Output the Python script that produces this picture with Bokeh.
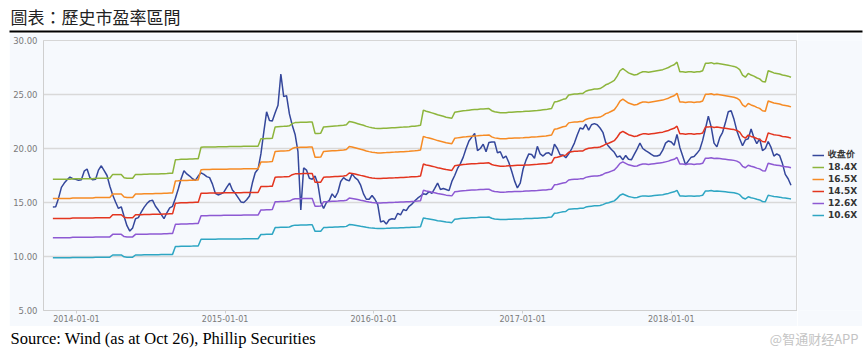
from datetime import datetime
import pandas as pd
from bokeh.plotting import figure
from bokeh.layouts import column, row
from bokeh.models import (Range1d, FixedTicker, DatetimeTickFormatter, NumeralTickFormatter,
                          Label, Legend, LegendItem, BoxAnnotation, ColumnDataSource, Spacer)
from bokeh.embed import file_html
from bokeh.resources import INLINE

# ---------------- data (weekly readings from the picture) ----------------
start_date = "2013-11-04"
n_weeks = 260

close = [
    14.58, 14.6, 15.4, 16.4, 16.8, 17.1, 17.35, 17.2, 17.15, 17.05,
    17.1, 17.9, 18.1, 17.3, 17.1, 17.15, 18.0, 18.4, 17.95, 17.5,
    16.5, 15.7, 15.05, 14.45, 14.6, 13.7, 12.85, 12.35, 12.65, 13.5,
    13.6, 14.1, 14.55, 14.9, 15.15, 15.2, 14.65, 14.3, 13.9, 13.5,
    14.05, 14.5, 14.65, 15.4, 16.25, 17.2, 17.95, 17.65, 17.45, 17.2,
    17.05, 17.45, 17.75, 17.6, 17.4, 17.3, 16.7, 15.85, 15.7, 15.8,
    15.95, 16.4, 16.8, 16.15, 15.85, 15.45, 15.05, 15.0, 15.25, 15.6,
    16.8, 17.75, 18.1, 19.5, 21.5, 23.4, 22.6, 22.55, 23.3, 24.0,
    26.9, 24.8, 24.9, 23.2, 22.15, 21.3, 19.7, 14.3, 18.2, 18.0,
    17.25, 17.15, 17.45, 16.7, 15.0, 14.45, 15.0, 15.2, 15.8, 15.45,
    15.95, 16.95, 17.3, 17.1, 17.0, 17.65, 17.3, 17.1, 16.6, 15.8,
    15.3, 15.3, 15.65, 15.3, 14.8, 13.2, 13.3, 13.0, 13.4, 13.5,
    13.45, 14.0, 13.85, 14.35, 14.25, 14.65, 14.85, 15.15, 15.4, 15.6,
    15.8, 15.75, 16.0, 15.85, 16.3, 16.8, 16.2, 16.3, 16.2, 16.1,
    16.95, 17.5, 18.15, 18.6, 19.2, 20.0, 20.7, 21.05, 21.4, 19.8,
    20.0, 20.4, 19.7, 20.55, 20.6, 20.6, 19.6, 19.7, 19.1, 19.3,
    18.7, 17.9, 17.0, 16.35, 16.8, 18.1, 18.9, 19.5, 19.45, 19.1,
    20.2, 19.5, 19.3, 19.55, 19.6, 19.35, 20.4, 20.0, 19.4, 19.4,
    19.15, 19.5, 19.95, 20.5, 21.25, 21.9, 21.8, 22.25, 21.7, 22.2,
    22.3, 22.2, 21.9, 21.5, 20.55, 20.2, 19.9, 19.65, 19.2, 19.3,
    18.95, 19.35, 19.0, 18.95, 19.45, 19.95, 20.5, 20.0, 19.8, 19.65,
    19.45, 19.3, 19.3, 19.4, 19.84, 20.5, 20.7, 20.6, 20.3, 21.3,
    20.1, 19.3, 18.5, 18.85, 19.2, 19.25, 19.55, 19.9, 20.75, 21.85,
    23.0, 22.0, 20.5, 20.15, 21.0, 21.5, 22.4, 23.4, 23.5, 22.7,
    21.65, 20.9, 20.25, 20.8, 20.9, 21.8, 21.0, 20.45, 20.9, 19.8,
    20.0, 20.65, 20.1, 19.3, 19.5, 19.35, 18.6, 17.6, 17.2, 16.6,
]

# 18.4X band; the other bands are the same EPS path times their multiple
band_184 = [
    17.15, 17.15, 17.15, 17.15, 17.15, 17.15, 17.15,                     # 0-6
    17.2, 17.2, 17.2, 17.2, 17.2, 17.2, 17.2, 17.2,                      # 7-14
    17.25, 17.25, 17.25, 17.25, 17.25, 17.25,                            # 15-20
    17.6, 17.6, 17.6, 17.6,                                              # 21-24
    17.3,                                                                # 25
    17.25, 17.25, 17.25,                                                 # 26-28
    17.6, 17.6, 17.6, 17.62, 17.62, 17.63, 17.64, 17.65, 17.65, 17.66,
    17.67, 17.68, 17.7, 17.7,                                            # 29-42
    18.95, 18.97, 19.0, 19.0, 19.0, 19.02, 19.03, 19.05, 19.05,          # 43-51
    20.12, 20.13, 20.13, 20.14, 20.15, 20.15, 20.16, 20.16, 20.17, 20.17,
    20.18, 20.18, 20.18, 20.19, 20.19, 20.2, 20.2, 20.2, 20.2, 20.21,
    20.21,                                                               # 52-72
    20.9, 20.9, 20.92, 20.93, 20.95,                                     # 73-77
    22.0, 22.02, 22.04, 22.05, 22.07, 22.1,                              # 78-83
    22.3,                                                                # 84
    22.4, 22.4, 22.42, 22.43, 22.43, 22.45, 22.45,                       # 85-91
    21.4, 21.4, 21.42,                                                   # 92-94
    22.0, 22.02, 22.04, 22.06, 22.08, 22.1, 22.13, 22.15,                # 95-102
    22.2,                                                                # 103
    22.5, 22.45, 22.38, 22.3, 22.22, 22.15, 22.05, 21.98, 21.92, 21.88,  # 104-113
    21.85, 21.85, 21.87, 21.88, 21.9, 21.92, 21.93, 21.95, 21.97, 21.98,
    22.0, 22.02, 22.05, 22.07, 22.1, 22.15,                              # 114-129
    23.55,                                                               # 130
    23.45, 23.38, 23.3, 23.22, 23.12, 23.05, 22.98, 22.9, 22.85,         # 131-139
    22.8,                                                                # 140
    23.35, 23.4, 23.45, 23.5, 23.52, 23.55, 23.58, 23.6, 23.62, 23.65,
    23.66, 23.68, 23.7,                                                  # 141-153
    23.5, 23.4, 23.35, 23.3, 23.3, 23.32, 23.35, 23.35, 23.38, 23.4,
    23.4, 23.42, 23.45, 23.45, 23.48, 23.5, 23.52, 23.55, 23.58, 23.6,
    23.65, 23.7,                                                         # 154-175
    24.3,                                                                # 176
    24.35, 24.45, 24.55, 24.6,                                           # 177-180
    24.95,                                                               # 181
    25.0, 25.05, 25.05, 25.1, 25.1,                                      # 182-186
    25.3, 25.4,                                                          # 187-188
    25.45, 25.5, 25.5, 25.55,                                            # 189-192
    25.7, 25.9, 26.0, 26.15, 26.3, 26.7, 27.2, 27.4, 27.2, 27.0,
    26.9, 26.8, 26.85, 27.0, 27.1,                                       # 193-207
    27.1, 27.05, 27.1, 27.15, 27.2,                                      # 208-212
    27.25, 27.3, 27.4, 27.5, 27.65, 27.75, 28.0,                         # 213-219
    27.1,                                                                # 220
    27.1, 27.05, 27.1, 27.1, 27.05, 27.1, 27.1,                          # 221-227
    27.2, 27.9,                                                          # 228-229
    27.9, 27.95, 27.85, 27.9, 27.85, 27.8,                               # 230-235
    27.75, 27.7, 27.65,                                                  # 236-238
    27.6, 27.5, 27.3, 26.8, 26.6, 26.95, 26.8, 26.7, 26.55, 26.45,
    26.2, 26.15,                                                         # 239-250
    27.2,                                                                # 251
    27.1, 27.0, 26.95, 26.9, 26.8, 26.75, 26.7, 26.6,                    # 252-259
]

series_names = ["收盘价", "18.4X", "16.5X", "14.5X", "12.6X", "10.6X"]
multiples = [18.4, 16.5, 14.5, 12.6, 10.6]
colors = ["#34479b", "#8db53c", "#f68b24", "#e3351f", "#8d59d3", "#2ea6c3"]
y_ticks = [5, 10, 15, 20, 25, 30]
x_tick_dates = ["2014-01-01", "2015-01-01", "2016-01-01", "2017-01-01", "2018-01-01"]

title_text = "圖表：歷史市盈率區間"
source_text = "Source: Wind (as at Oct 26), Phillip Securities"
watermark_text = "@智通财经APP"

# ---------------- build ----------------
dates = pd.date_range(start_date, periods=n_weeks, freq="7D")
eps = [v / 18.4 for v in band_184]
data = {"date": dates, "close": close}
for name, m in zip(series_names[1:], multiples):
    data[name] = [e * m for e in eps]
src = ColumnDataSource(data)
columns = ["close"] + series_names[1:]

PANEL = "#f6f9fd"
W = 864


def blank(width, height, bg="white"):
    f = figure(width=width, height=height, x_range=Range1d(0, width), y_range=Range1d(0, height),
               x_axis_type=None, y_axis_type=None, output_backend="svg", toolbar_location=None,
               min_border=0, min_border_left=0, min_border_right=0,
               min_border_top=0, min_border_bottom=0)
    f.outline_line_color = None
    f.background_fill_color = bg
    f.border_fill_color = bg
    f.xgrid.visible = False
    f.ygrid.visible = False
    return f


# header: title + black rule
head = blank(W, 33)
head.add_layout(Label(x=10, y=17, x_units="screen", y_units="screen", text=title_text,
                      text_font="Noto Sans CJK TC", text_font_size="17px", text_color="#222222",
                      text_baseline="middle", text_align="left"))
head.add_layout(BoxAnnotation(left=9, right=862, bottom=1, top=3,
                              left_units="screen", right_units="screen",
                              top_units="screen", bottom_units="screen",
                              fill_color="black", fill_alpha=1, line_alpha=0))

# main chart (frame from x=43 to 797, y=40 to 310 on the page)
p = figure(width=788, height=293, x_axis_type="datetime",
           x_range=Range1d(datetime(2013, 10, 12), datetime(2018, 11, 7)),
           y_range=Range1d(5, 30),
           output_backend="svg", toolbar_location=None,
           min_border_left=34, min_border_right=0, min_border_top=7, min_border_bottom=16)
p.background_fill_color = PANEL
p.border_fill_color = PANEL
p.outline_line_color = "#d6d6d6"

for col, c in zip(columns, colors):
    p.line("date", col, source=src, line_color=c, line_width=1.5)

tick_ms = [pd.Timestamp(d).value / 1e6 for d in x_tick_dates]
p.xaxis.ticker = FixedTicker(ticks=tick_ms)
fmt = "%Y-%m-%d"
p.xaxis.formatter = DatetimeTickFormatter(milliseconds=fmt, seconds=fmt, minsec=fmt, minutes=fmt,
                                          hourmin=fmt, hours=fmt, days=fmt, months=fmt, years=fmt)
p.yaxis.ticker = FixedTicker(ticks=y_ticks)
p.yaxis.formatter = NumeralTickFormatter(format="0.00")
for ax in (p.xaxis[0], p.yaxis[0]):
    ax.axis_line_color = "#cfcfcf"
    ax.major_label_text_color = "#7a7a7a"
    ax.major_label_text_font = "DejaVu Sans"
    ax.major_label_text_font_size = "8.5px"
    ax.minor_tick_line_color = None
p.yaxis.major_tick_line_color = None
p.yaxis.major_tick_out = 0
p.yaxis.major_label_standoff = 6
p.xaxis.major_tick_line_color = "#cfcfcf"
p.xaxis.major_tick_in = 0
p.xaxis.major_tick_out = 3
p.xaxis.major_label_standoff = 1
p.xaxis.major_label_text_font_size = "8px"
p.xgrid.visible = False
p.ygrid.grid_line_color = "#d9d9d9"
p.ygrid.grid_line_width = 1.5

# legend panel to the right of the frame (x=797..862 on the page); its lines use the
# same data but fall outside this small panel's ranges, so only the legend shows
legfig = blank(65, 293, bg=PANEL)
leg_renderers = [legfig.line("date", col, source=src, line_color=c, line_width=1.5)
                 for col, c in zip(columns, colors)]
legend = Legend(items=[LegendItem(label=n, renderers=[rr]) for n, rr in zip(series_names, leg_renderers)],
                location=(15, 89))
legend.label_text_font = "DejaVu Sans"
legend.label_text_font_size = "9px"
legend.label_text_font_style = "bold"
legend.label_text_color = "#333333"
legend.glyph_width = 12
legend.glyph_height = 12
legend.label_height = 12
legend.label_standoff = 4
legend.spacing = 0
legend.padding = 0
legend.margin = 0
legend.border_line_alpha = 0
legend.background_fill_alpha = 0
legfig.add_layout(legend)

# footer: source + watermark
foot = blank(W, 30)
foot.add_layout(Label(x=10, y=18, x_units="screen", y_units="screen", text=source_text,
                      text_font="Liberation Serif", text_font_size="16.5px", text_color="#000000",
                      text_baseline="middle", text_align="left"))
foot.add_layout(Label(x=858, y=18, x_units="screen", y_units="screen", text=watermark_text,
                      text_font="Noto Sans CJK SC", text_font_size="13px", text_color="#c4c4c4",
                      text_baseline="middle", text_align="right"))

layout = column(head, row(Spacer(width=9, height=293), p, legfig, spacing=0), foot, spacing=0)
open("out.html", "w").write(file_html(layout, INLINE))
